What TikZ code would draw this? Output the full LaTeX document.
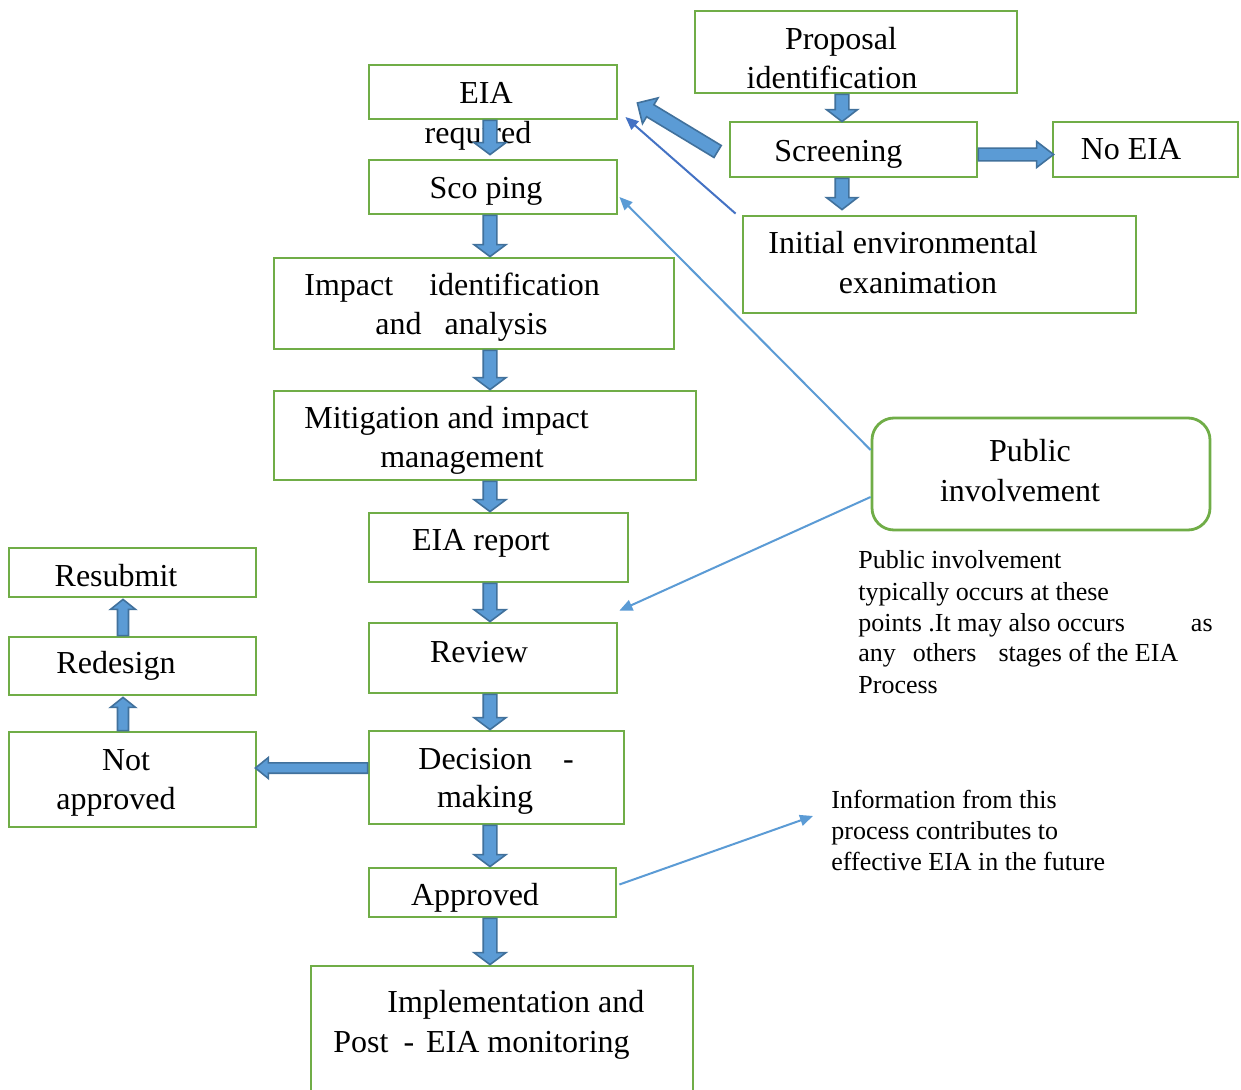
\documentclass[tikz,border=0pt]{standalone}
\usepackage{fontspec}
\setmainfont{Liberation Serif}
\usetikzlibrary{calc,fit,arrows.meta}
\definecolor{gboxc}{HTML}{70AD47}
\definecolor{bfill}{HTML}{5B9BD5}
\definecolor{bline}{HTML}{41719C}
\definecolor{lblue}{HTML}{5B9BD5}
\definecolor{dblue}{HTML}{4472C4}
% block arrow: start, end, shaft half width, head half width, head length
\newcommand\blockarr[5]{%
  \coordinate (ba-s) at (#1);
  \coordinate (ba-e) at (#2);
  \coordinate (ba-h) at ($(ba-e)!#5!(ba-s)$);
  \draw[barrow] ($(ba-s)!#3!90:(ba-e)$) -- ($(ba-h)!#3!90:(ba-e)$) -- ($(ba-h)!#4!90:(ba-e)$) -- (ba-e)
     -- ($(ba-h)!#4!-90:(ba-e)$) -- ($(ba-h)!#3!-90:(ba-e)$) -- ($(ba-s)!#3!-90:(ba-e)$) -- cycle;
}
\begin{document}
\begin{tikzpicture}[x=0.5pt,y=-0.5pt,
  gbox/.style={draw=gboxc,line width=1.4pt,inner sep=0pt},
  barrow/.style={fill=bfill,draw=bline,line width=0.8pt,line join=miter},
  mt/.style={font=\fontsize{16}{20}\selectfont,inner sep=0pt,yshift=-1pt},
  st/.style={font=\fontsize{13}{15.5}\selectfont,inner sep=0pt,yshift=-0.5pt},
  conn/.style={line width=1pt,-{Triangle[length=6.5pt,width=5.5pt]}}]
\useasboundingbox (0,0) rectangle (1241,1090);
\fill[white] (0,0) rectangle (1241,1090);

% boxes
\node[gbox,fit={(695,11) (1017,93)}] (prop) {};
\node[gbox,fit={(730,122) (977,177)}] (scr) {};
\node[gbox,fit={(1053,122) (1238,177)}] (noeia) {};
\node[gbox,fit={(743,216) (1136,313)}] (iee) {};
\node[gbox,fit={(369,65) (617,119)}] (eia) {};
\node[gbox,fit={(369,160) (617,214)}] (scop) {};
\node[gbox,fit={(274,258) (674,349)}] (imp) {};
\node[gbox,fit={(274,391) (696,480)}] (mit) {};
\node[gbox,fit={(369,513) (628,582)}] (rep) {};
\node[gbox,fit={(369,623) (617,693)}] (rev) {};
\node[gbox,fit={(369,731) (624,824)}] (dec) {};
\node[gbox,fit={(369,868) (616,917)}] (appr) {};
\node[gbox,fit={(311,966) (693,1100)}] (impl) {};
\node[gbox,fit={(9,548) (256,597)}] (resub) {};
\node[gbox,fit={(9,637) (256,695)}] (redes) {};
\node[gbox,fit={(9,732) (256,827)}] (notap) {};
\node[gbox,rounded corners=11pt,fit={(872,418) (1210,530)}] (pub) {};

% texts in boxes
\node[mt,anchor=base] (tprop1) at (841,48) {Proposal};
\node[mt,anchor=base] (tprop2) at (832,87) {identification};
\node[mt,anchor=base] (teia1) at (486,102) {EIA};
\node[mt,anchor=base] (teia2) at (478,142) {required};
\node[mt,anchor=base] (tscop) at (486,197) {Sco ping};
\node[mt,anchor=base west] (tscr) at (774,160) {Screening};
\node[mt,anchor=base] (tno) at (1131,158) {No EIA};
\node[mt,anchor=base] (tiee1) at (903,252) {Initial environmental};
\node[mt,anchor=base] (tiee2) at (918,292) {exanimation};
\node[mt,anchor=base west] (timp1) at (304,294) {Impact\hspace{18pt}identification};
\node[mt,anchor=base west] (timp2) at (375,333) {and\hspace{11.5pt}analysis};
\node[mt,anchor=base west] (tmit1) at (304,427) {Mitigation and impact};
\node[mt,anchor=base] (tmit2) at (462,465) {management};
\node[mt,anchor=base] (trep) at (481,548) {EIA report};
\node[mt,anchor=base] (trev) at (479,660) {Review};
\node[mt,anchor=base west] (tdec1) at (418,767) {Decision\hspace{15.5pt}-};
\node[mt,anchor=base] (tdec2) at (485,805) {making};
\node[mt,anchor=base] (tappr) at (475,903) {Approved};
\node[mt,anchor=base west] (timpl1) at (387,1010) {Implementation and};
\node[mt,anchor=base west] (timpl2) at (333,1050) {Post\hspace{7.5pt}-\hspace{6pt}EIA monitoring};
\node[mt,anchor=base] (tresub) at (116,584) {Resubmit};
\node[mt,anchor=base] (tredes) at (116,671) {Redesign};
\node[mt,anchor=base] (tnot1) at (126,768) {Not};
\node[mt,anchor=base] (tnot2) at (116,807) {approved};
\node[mt,anchor=base] (tpub1) at (1030,460) {Public};
\node[mt,anchor=base] (tpub2) at (1020,500) {involvement};

% notes
\node[st,anchor=base west] (p1) at (858,567) {Public involvement};
\node[st,anchor=base west] (p2) at (858,599) {typically occurs at these};
\node[st,anchor=base west] (p3) at (858,630) {points .It may also occurs};
\node[st,anchor=base east] (p3b) at (1213,630) {as};
\node[st,anchor=base west] (p4) at (858,660) {any\hspace{8.5pt}others\hspace{11pt}stages of the EIA};
\node[st,anchor=base west] (p5) at (858,692) {Process};
\node[st,anchor=base west] (i1) at (831,807) {Information from this};
\node[st,anchor=base west] (i2) at (831,838) {process contributes to};
\node[st,anchor=base west] (i3) at (831,869) {effective EIA in the future};

% helper coordinates
\coordinate (colx) at (490,0);
\coordinate (scx) at (842,0);
\coordinate (lfx) at (123,0);
\coordinate (dly) at (0,768);
\coordinate (infotip) at (813,816);

% block arrows
\blockarr{prop.south -| scx}{$(scr.north -| scx)+(0,1)$}{3.4pt}{7.75pt}{6pt}
\blockarr{scr.south -| scx}{$(iee.north -| scx)+(0,-5)$}{3.4pt}{7.75pt}{6pt}
\blockarr{$(scr.east)+(0,5)$}{$(noeia.west)+(2,5)$}{3.2pt}{6.5pt}{8.5pt}
\blockarr{$(scr.west)+(-11,2)$}{$(eia.east)+(19,11)$}{3.5pt}{7.5pt}{7.5pt}

\blockarr{eia.south -| colx}{$(scop.north -| colx)+(0,-4)$}{3.4pt}{8pt}{6pt}
\blockarr{scop.south -| colx}{imp.north -| colx}{3.4pt}{8pt}{6pt}
\blockarr{imp.south -| colx}{mit.north -| colx}{3.4pt}{8pt}{6pt}
\blockarr{mit.south -| colx}{rep.north -| colx}{3.4pt}{8pt}{6pt}
\blockarr{rep.south -| colx}{rev.north -| colx}{3.4pt}{8pt}{6pt}
\blockarr{rev.south -| colx}{dec.north -| colx}{3.4pt}{8pt}{6pt}
\blockarr{dec.south -| colx}{appr.north -| colx}{3.4pt}{8pt}{6pt}
\blockarr{appr.south -| colx}{impl.north -| colx}{3.4pt}{8pt}{6pt}

\blockarr{dec.west |- dly}{$(notap.east |- dly)+(-2,0)$}{2.6pt}{5.25pt}{6.5pt}
\blockarr{notap.north -| lfx}{$(redes.south -| lfx)+(0,1)$}{2.75pt}{6.25pt}{5pt}
\blockarr{redes.north -| lfx}{$(resub.south -| lfx)+(0,1)$}{2.75pt}{6.25pt}{5pt}

% thin connectors
\draw[conn,dblue] ($(iee.north west)+(-6,-1)$) -- ($(eia.east)+(7,25)$);
\draw[conn,lblue] ($(pub.west)+(0,-24)$) -- ($(scop.east)+(1,10)$);
\draw[conn,lblue] ($(pub.west)+(0,23)$) -- ($(rev.north east)+(1,-11)$);
\draw[conn,lblue] ($(appr.east)+(2,-8)$) -- (infotip);
\end{tikzpicture}
\end{document}
